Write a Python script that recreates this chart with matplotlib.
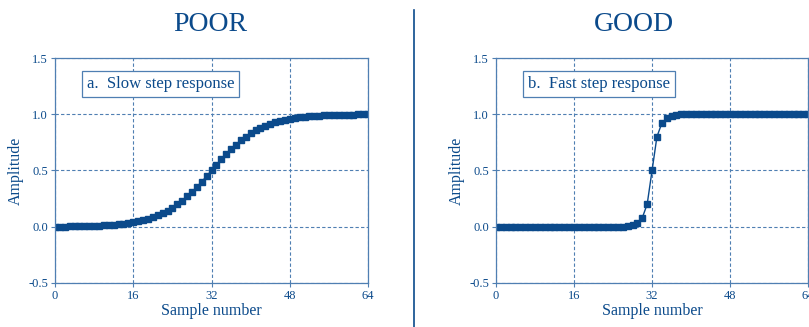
import numpy as np
import matplotlib.pyplot as plt
from matplotlib.lines import Line2D

# sample index
n = np.arange(65)

# slow step response
slow = [0.002, 0.002, 0.002, 0.003, 0.004, 0.005, 0.005, 0.007, 0.008, 0.010,
        0.012, 0.015, 0.018, 0.022, 0.027, 0.032, 0.039, 0.047, 0.057, 0.069,
        0.083, 0.100, 0.119, 0.142, 0.168, 0.198, 0.232, 0.269, 0.310, 0.354,
        0.401, 0.450, 0.500, 0.550, 0.599, 0.646, 0.690, 0.731, 0.769, 0.802,
        0.832, 0.858, 0.881, 0.900, 0.917, 0.931, 0.943, 0.953, 0.961, 0.968,
        0.973, 0.978, 0.982, 0.985, 0.988, 0.990, 0.992, 0.993, 0.995, 0.996,
        0.996, 0.997, 0.998, 0.998, 0.998]

# fast step response
fast = [0.0] * 26 + [0.002, 0.006, 0.015, 0.035, 0.08, 0.20, 0.50, 0.80,
        0.92, 0.965, 0.985, 0.994, 0.998] + [1.0] * 26

titles = ['POOR', 'GOOD']
labels = ['a.  Slow step response', 'b.  Fast step response']
xticks = [0, 16, 32, 48, 64]
yticks = [-0.5, 0.0, 0.5, 1.0, 1.5]

navy = '#0b4a8b'
gridc = '#4f7fb2'
plt.rcParams['font.family'] = ['Liberation Serif', 'DejaVu Serif']

fig = plt.figure(figsize=(8.09, 3.27), dpi=100)
boxes = [[0.068, 0.1346, 0.387, 0.688], [0.613, 0.1346, 0.386, 0.688]]
title_x = [0.26, 0.783]

for k, y in enumerate([slow, fast]):
    ax = fig.add_axes(boxes[k])
    ax.plot(n, y, '-', color=navy, lw=1.0, marker='s', ms=3.7, mec=navy, mfc=navy)
    ax.set_xlim(0, 64)
    ax.set_ylim(-0.5, 1.5)
    ax.set_xticks(xticks)
    ax.set_yticks(yticks)
    ax.set_yticklabels(['-0.5', '0.0', '0.5', '1.0', '1.5'])
    ax.grid(True, ls=(0, (3, 2)), color=gridc, lw=0.8)
    ax.tick_params(colors=gridc, labelcolor=navy, labelsize=9, length=3, width=0.8, pad=2)
    for s in ax.spines.values():
        s.set_color(gridc)
        s.set_linewidth(0.9)
    ax.set_xlabel('Sample number', color=navy, fontsize=11.5, labelpad=1)
    ax.set_ylabel('Amplitude', color=navy, fontsize=11.5, labelpad=3)
    ax.text(6.5, 1.27, labels[k], color=navy, fontsize=12, va='center', ha='left',
            bbox=dict(boxstyle='square,pad=0.3', fc='white', ec=gridc, lw=0.9))
    fig.text(title_x[k], 0.925, titles[k], color=navy, fontsize=20, ha='center', va='center')

fig.add_artist(Line2D([414 / 809, 414 / 809], [0, 1 - 10 / 327], color=navy, lw=1.2,
                      transform=fig.transFigure))

fig.savefig('out.png', dpi=100)
